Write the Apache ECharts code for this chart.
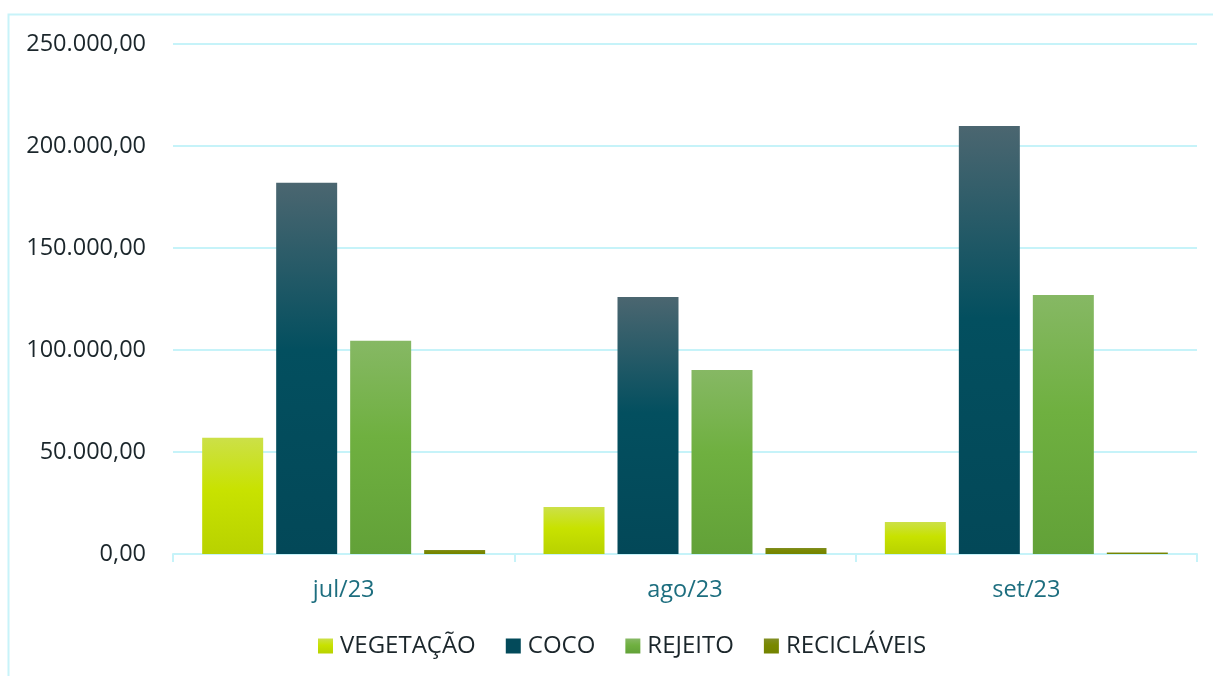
<!DOCTYPE html>
<html>
<head>
<meta charset="utf-8">
<script src="https://cdn.jsdelivr.net/npm/echarts@6/dist/echarts.min.js"></script>
<style>
html,body{margin:0;padding:0;background:#fff;}
#c{width:1213px;height:676px;}
</style>
</head>
<body>
<div id="c"></div>
<script>
const categories = ['jul/23', 'ago/23', 'set/23'];
const vegetacao = [57000, 23000, 15700];
const coco = [182000, 126000, 209800];
const rejeito = [104500, 90200, 127000];
const reciclaveis = [2000, 3000, 700];
const yTicks = [0, 50000, 100000, 150000, 200000, 250000];

function grad(top, mid, bottom) {
  return new echarts.graphic.LinearGradient(0, 0, 0, 1, [
    {offset: 0, color: top},
    {offset: 0.45, color: mid},
    {offset: 1, color: bottom}
  ]);
}
function fmt(v) {
  const s = Math.round(v).toString().replace(/\B(?=(\d{3})+(?!\d))/g, '.');
  return s + ',00';
}
const font = 'Open Sans';
const chart = echarts.init(document.getElementById('c'), null, {renderer: 'canvas'});
const series = [
  {name: 'VEGETAÇÃO', data: vegetacao, colors: ['#cce048', '#c8e200', '#b8d200'], legend: grad('#cce048', '#c8e200', '#b8d200')},
  {name: 'COCO', data: coco, colors: ['#4b6670', '#034f5f', '#034858'], legend: '#034a5a'},
  {name: 'REJEITO', data: rejeito, colors: ['#86b864', '#6fb040', '#62a138'], legend: grad('#86b864', '#6fb040', '#62a138')},
  {name: 'RECICLÁVEIS', data: reciclaveis, colors: ['#818e24', '#788800', '#738300'], legend: grad('#818e24', '#788800', '#738300')}
];
chart.setOption({
  animation: false,
  backgroundColor: '#ffffff',
  graphic: [{
    type: 'rect', silent: true,
    shape: {x: 8.5, y: 14.5, width: 1230, height: 700},
    style: {fill: 'none', stroke: '#c8f3f9', lineWidth: 2}
  }],
  grid: {left: 173, right: 16, top: 44, bottom: 122, containLabel: false},
  legend: {
    bottom: 13, left: 313,
    itemWidth: 15, itemHeight: 15, itemGap: 30,
    icon: 'rect',
    textStyle: {fontFamily: font, fontSize: 24, color: '#1b262b', padding: [0, 0, 0, 2]},
    data: series.map(s => ({name: s.name, itemStyle: {color: s.legend}}))
  },
  xAxis: {
    type: 'category', data: categories,
    axisLine: {show: true, lineStyle: {color: '#c6f3f9', width: 2}},
    axisTick: {show: true, length: 8, lineStyle: {color: '#c6f3f9', width: 2}},
    axisLabel: {fontFamily: font, fontSize: 23.5, color: '#1d6e7f', margin: 24}
  },
  yAxis: {
    type: 'value', min: 0, max: 250000, interval: 50000,
    axisLine: {show: false}, axisTick: {show: false},
    splitLine: {lineStyle: {color: '#c6f3f9', width: 2}},
    axisLabel: {fontFamily: font, fontSize: 23.5, color: '#1b262b', margin: 27,
      formatter: v => yTicks.includes(v) ? fmt(v) : ''}
  },
  series: series.map(s => ({
    name: s.name, type: 'bar', data: s.data,
    barWidth: 61, barGap: '21.3%',
    itemStyle: {color: grad(s.colors[0], s.colors[1], s.colors[2])}
  }))
});
</script>
</body>
</html>
